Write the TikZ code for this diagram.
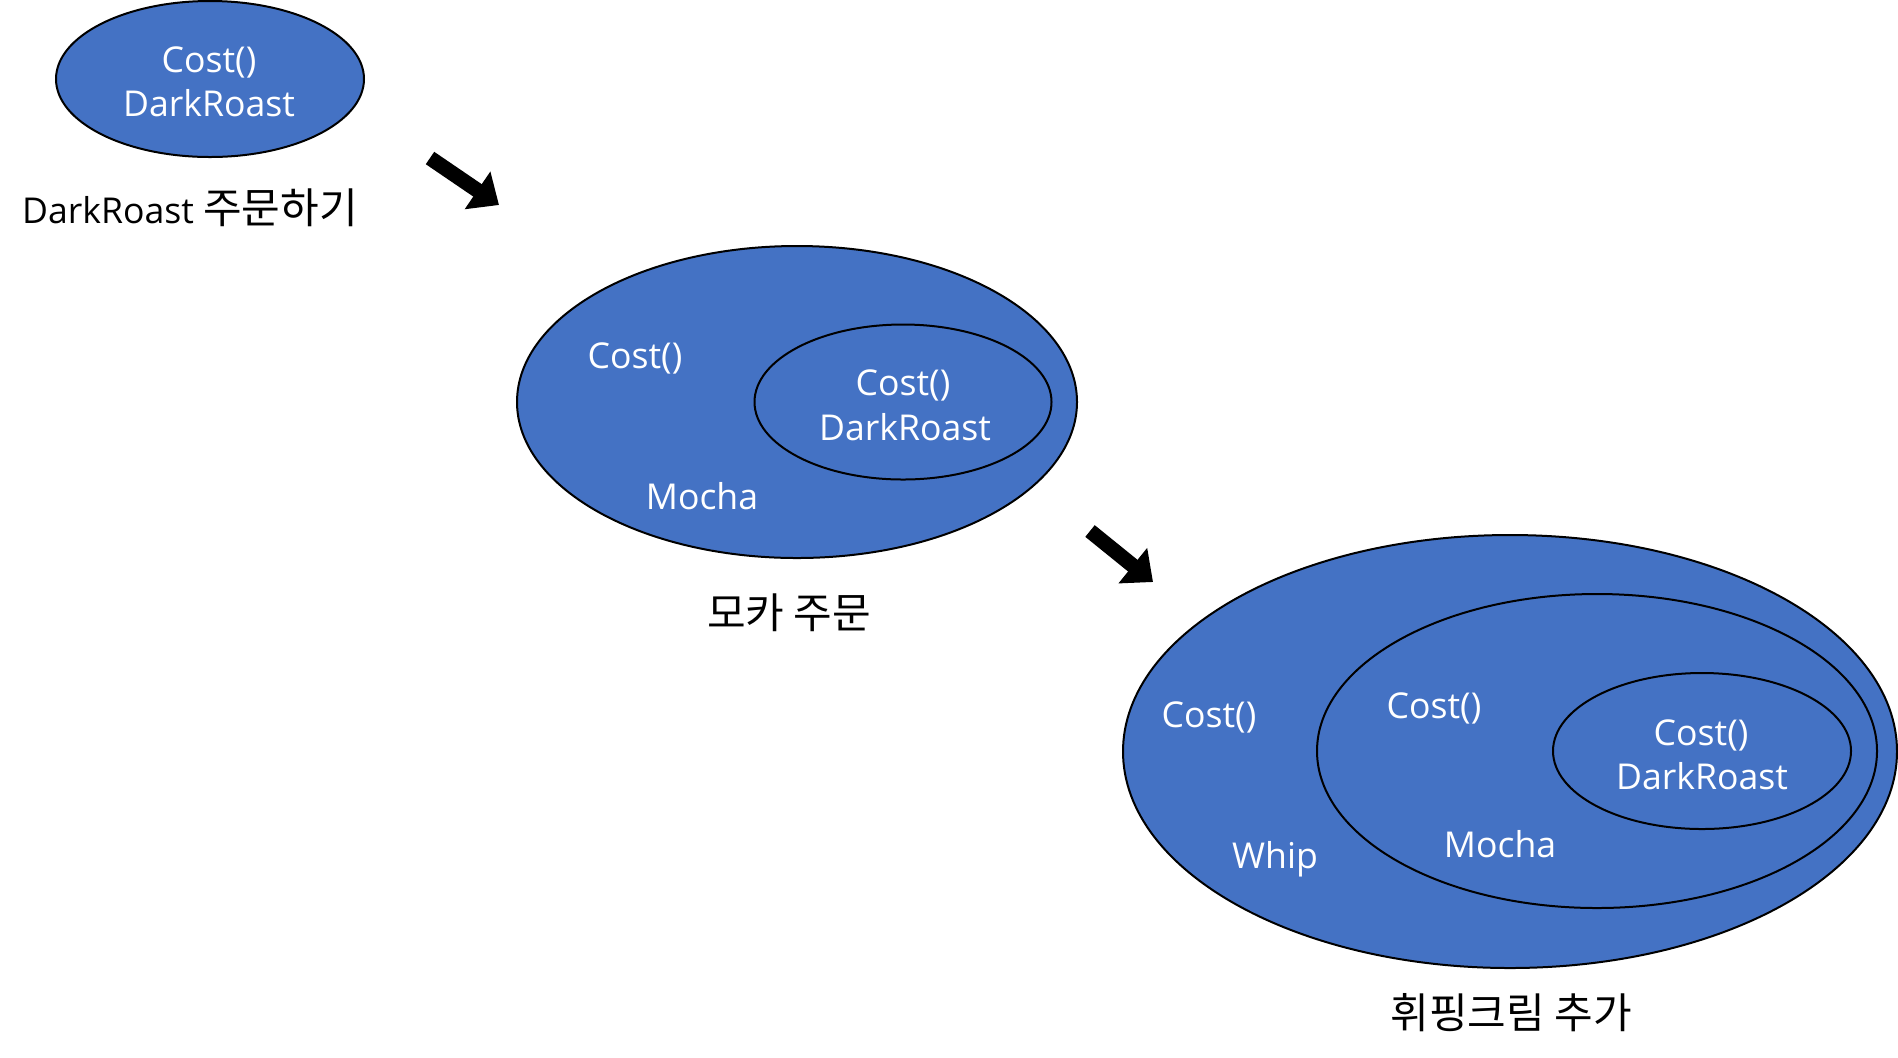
\documentclass[tikz,border=0pt]{standalone}
\usepackage{fontspec}
\setmainfont{Open Sans}
\newfontfamily\kor[Scale=1.18]{Noto Sans CJK KR}
\usetikzlibrary{shapes.geometric,arrows.meta}
\definecolor{cupblue}{HTML}{4472C4}
\tikzset{
	cup/.style={ellipse,draw=black,line width=1pt,fill=cupblue,inner sep=0pt},
	lbl/.style={text=white,inner sep=0pt,anchor=base,font=\fontsize{17.8}{20}\selectfont},
	orderlbl/.style={inner sep=0pt,font=\fontsize{17.8}{20}\selectfont},
	flow/.style={line width=7.5pt,-{Triangle[length=13pt,width=22pt]}}
}
\begin{document}
\begin{tikzpicture}[x=0.5pt,y=-0.5pt]
			\useasboundingbox (0,0) rectangle (1898,1057);
			\node[cup,minimum width=154pt,minimum height=78pt] (dark) at (210,79) {};
			\node[lbl] (darkCost) at (209,72) {Cost()};
			\node[lbl] (darkName) at (209,116) {DarkRoast};
			\node[orderlbl,anchor=base] (darkCap) at (190,223) {DarkRoast {\kor 주문하기}};
			\node[cup,minimum width=280pt,minimum height=156pt] (mochaOut) at (797,402) {};
			\node[cup,minimum width=148.5pt,minimum height=77.5pt] (mochaIn) at (903,402) {};
			\node[lbl] (mochaCost) at (635,368) {Cost()};
			\node[lbl] (mochaName) at (702,509) {Mocha};
			\node[lbl] (mochaInCost) at (903,395) {Cost()};
			\node[lbl] (mochaInName) at (905,440) {DarkRoast};
			\node[orderlbl] (mochaCap) at (789,613) {\kor 모카 주문};
			\node[cup,minimum width=387pt,minimum height=216.5pt] (whipOut) at (1510,751.5) {};
			\node[cup,minimum width=280pt,minimum height=157pt] (whipMid) at (1597,751) {};
			\node[cup,minimum width=149pt,minimum height=78pt] (whipIn) at (1702,751) {};
			\node[lbl] (whipCost) at (1209,727) {Cost()};
			\node[lbl] (whipName) at (1275,868) {Whip};
			\node[lbl] (whipMidCost) at (1434,718) {Cost()};
			\node[lbl] (whipMidName) at (1500,857) {Mocha};
			\node[lbl] (whipInCost) at (1701,745) {Cost()};
			\node[lbl] (whipInName) at (1702,789) {DarkRoast};
			\node[orderlbl] (whipCap) at (1511,1013) {\kor 휘핑크림 추가};
			\coordinate (stepA) at (430,158);
			\coordinate (stepB) at (499,205);
			\coordinate (stepC) at (1090,531);
			\coordinate (stepD) at (1153,582);
			\draw[flow] (stepA) -- (stepB);
			\draw[flow] (stepC) -- (stepD);
\end{tikzpicture}
\end{document}
